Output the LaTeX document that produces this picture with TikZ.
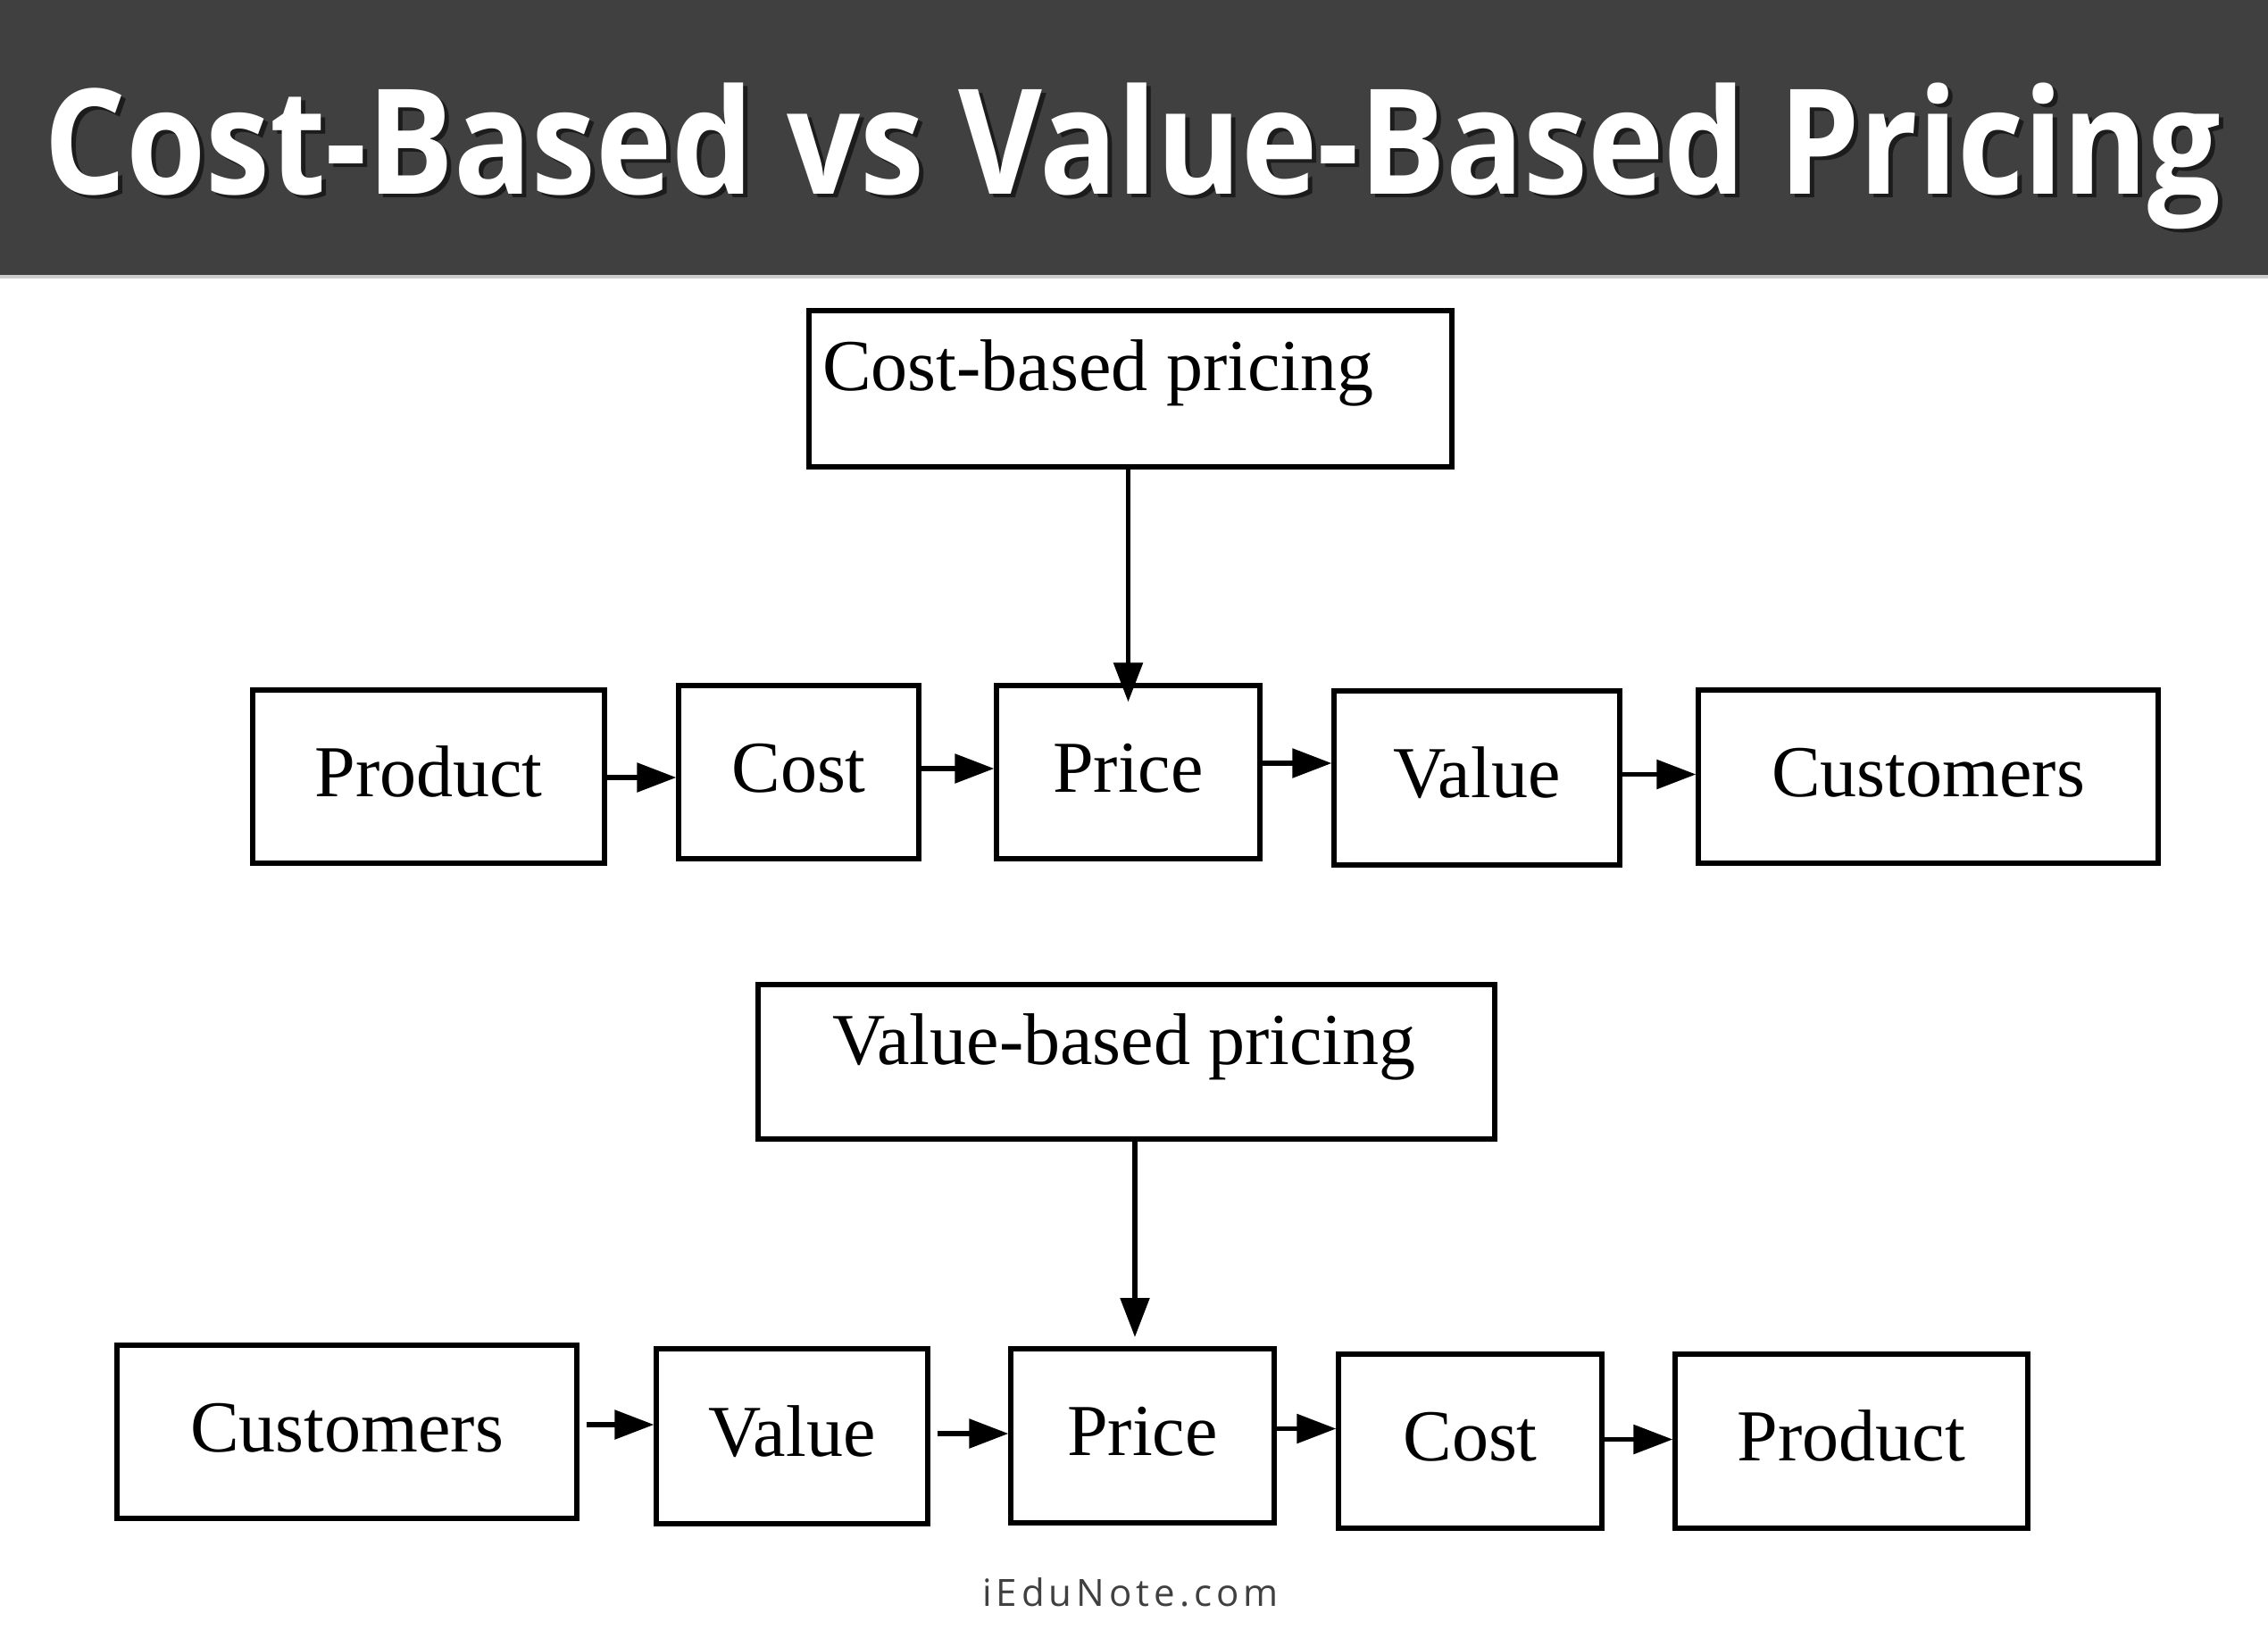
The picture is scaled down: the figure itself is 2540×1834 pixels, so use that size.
\documentclass[tikz,border=0pt]{standalone}
\usepackage{fontspec}
\setmainfont{Liberation Serif}
\newfontfamily\titlefont{Open Sans}
\newfontfamily\footfont[LetterSpace=12]{Open Sans}
\usetikzlibrary{arrows.meta}
\definecolor{barcol}{RGB}{64,64,64}
\definecolor{barline}{RGB}{205,205,205}
\definecolor{footcol}{RGB}{64,64,64}
\begin{document}
\begin{tikzpicture}[x=1pt,y=-1pt,
  box/.style={draw=black, line width=5.2pt, rectangle, inner sep=0pt,
    font=\fontsize{82}{98}\selectfont, text height=56pt, text depth=12pt},
  headbox/.style={draw=black, line width=5.2pt, rectangle, inner sep=0pt},
  headtext/.style={font=\fontsize{82}{98}\selectfont, anchor=base west, inner sep=0pt},
  arr/.style={line width=5.5pt, -{Triangle[length=44pt,width=32pt]}},
  titletext/.style={font=\titlefont\bfseries\fontsize{164}{190}\selectfont, anchor=base west, inner sep=0pt}
]
\useasboundingbox (0,0) rectangle (2540,1834);
\fill[white] (0,0) rectangle (2540,1834);
% title bar
\fill[barcol] (0,0) rectangle (2540,308);
\fill[barline] (0,308) rectangle (2540,312);
\node[titletext, text=black, opacity=0.55] (titleshadow) at (54,221)
  {\resizebox{2438pt}{\height}{Cost-Based vs Value-Based Pricing}};
\node[titletext, text=white] (title) at (49,217)
  {\resizebox{2438pt}{\height}{Cost-Based vs Value-Based Pricing}};

% cost-based pricing
\node[headbox, minimum width=720pt, minimum height=175pt] (cbp) at (1266,435.5) {};
\node[headtext] (cbptext) at (921,437) {Cost-based pricing};

\node[box, minimum width=394pt, minimum height=194pt] (prodA) at (480,870) {Product};
\node[box, minimum width=269pt, minimum height=194pt] (costA) at (894.5,865) {Cost};
\node[box, minimum width=295pt, minimum height=194pt] (priceA) at (1263.5,865) {Price};
\node[box, minimum width=320pt, minimum height=195pt] (valueA) at (1654,871.5) {Value};
\node[box, minimum width=515pt, minimum height=194pt] (custA) at (2159.5,870) {Customers};

\draw[arr] (cbp.south -| priceA.north) -- ([yshift=-21pt]priceA.north);
\draw[arr] ([yshift=-1pt]prodA.east) -- ([yshift=-1pt]prodA.east -| costA.west);
\draw[arr] ([yshift=4pt]costA.east) -- ([yshift=4pt]costA.east -| priceA.west);
\draw[arr] ([yshift=10pt]priceA.east) -- ([yshift=10pt]priceA.east -| valueA.west);
\draw[arr] ([yshift=4pt]valueA.east) -- ([yshift=4pt]valueA.east -| custA.west);

% value-based pricing
\node[headbox, minimum width=825pt, minimum height=173pt] (vbp) at (1261.5,1189.5) {};
\node[headtext] (vbptext) at (932,1192) {Value-based pricing};

\node[box, minimum width=515pt, minimum height=194pt] (custB) at (388.5,1604) {Customers};
\node[box, minimum width=304pt, minimum height=196pt] (valueB) at (887,1609) {Value};
\node[box, minimum width=295pt, minimum height=195pt] (priceB) at (1279.5,1608.5) {Price};
\node[box, minimum width=295pt, minimum height=195pt] (costB) at (1646.5,1614.5) {Cost};
\node[box, minimum width=395pt, minimum height=195pt] (prodB) at (2073.5,1614.5) {Product};

\coordinate (vtip) at (1271,1498);
\draw[arr] (vbp.south -| vtip) -- (vtip);
\draw[arr] ([xshift=8pt,yshift=8pt]custB.east) -- ([yshift=8pt]custB.east -| valueB.west);
\draw[arr] ([xshift=8pt,yshift=3pt]valueB.east) -- ([yshift=3pt]valueB.east -| priceB.west);
\draw[arr] ([xshift=-6pt,yshift=8pt]priceB.east) -- ([yshift=8pt]priceB.east -| costB.west);
\draw[arr] ([yshift=2pt]costB.east) -- ([yshift=2pt]costB.east -| prodB.west);

% footer
\node[font=\footfont\fontsize{42}{50}\selectfont, text=footcol, anchor=base, inner sep=0pt] (foot) at (1266,1799) {iEduNote.com};
\end{tikzpicture}
\end{document}
